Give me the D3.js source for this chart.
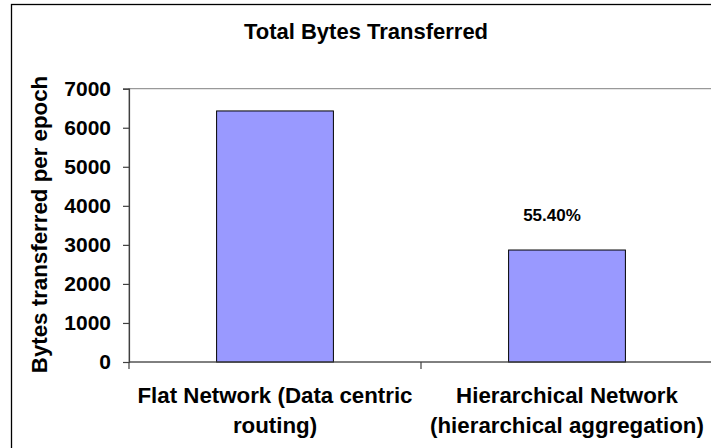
<!DOCTYPE html>
<html>
<head>
<meta charset="utf-8">
<script src="https://cdn.jsdelivr.net/npm/d3@7"></script>
<style>
  html, body { margin: 0; padding: 0; background: #fff; }
  svg { display: block; }
  text { font-family: "Liberation Sans", Arial, sans-serif; font-weight: bold; fill: #000; }
</style>
</head>
<body>
<svg id="chart" width="711" height="448"></svg>
<script>
// Chart content
const chartTitle = "Total Bytes Transferred";
const yAxisTitle = "Bytes transferred per epoch";
const categories = ["Flat Network (Data centric routing)", "Hierarchical Network (hierarchical aggregation)"];
const categoryLines = [["Flat Network (Data centric", "routing)"], ["Hierarchical Network", "(hierarchical aggregation)"]];
const bytesPerEpoch = [6430, 2868];
const yTicks = [0, 1000, 2000, 3000, 4000, 5000, 6000, 7000];
const reductionLabel = "55.40%";

const svg = d3.select("#chart");

// Plot area geometry
const plot = { left: 129, right: 713, top: 88.7, bottom: 362 };

const x = d3.scaleBand()
  .domain(categories)
  .range([plot.left, plot.right])
  .paddingInner(0.6)
  .paddingOuter(0.3);

const y = d3.scaleLinear()
  .domain([0, 7000])
  .range([plot.bottom, plot.top]);

// Chart area frame (extends past the visible window on right/bottom)
svg.append("rect")
  .attr("x", 11.5).attr("y", 4.5)
  .attr("width", 760).attr("height", 500)
  .attr("fill", "none")
  .attr("stroke", "#000")
  .attr("stroke-width", 1.3);

// Plot area border
svg.append("rect")
  .attr("x", plot.left).attr("y", y(7000))
  .attr("width", plot.right - plot.left)
  .attr("height", plot.bottom - y(7000))
  .attr("fill", "none")
  .attr("stroke", "#808080")
  .attr("stroke-width", 1);

// Title
svg.append("text")
  .attr("x", 366).attr("y", 39.3)
  .attr("text-anchor", "middle")
  .style("font-size", "22px")
  .text(chartTitle);

// Y axis
const yAxis = d3.axisLeft(y)
  .tickValues(yTicks)
  .tickFormat(d3.format("d"))
  .tickSize(6)
  .tickPadding(12);

const gy = svg.append("g")
  .attr("transform", `translate(${plot.left},0)`)
  .call(yAxis);
gy.select(".domain").attr("stroke", "#404040").attr("stroke-width", 1.2);
gy.selectAll(".tick line").attr("stroke", "#404040").attr("stroke-width", 1.2);
gy.selectAll(".tick text")
  .style("font-size", "21px")
  .style("font-family", "\"Liberation Sans\", Arial, sans-serif")
  .style("font-weight", "bold")
  .attr("fill", "#000");

// Y axis title
svg.append("text")
  .attr("transform", `translate(46.5,224.5) rotate(-90)`)
  .attr("text-anchor", "middle")
  .style("font-size", "22.3px")
  .text(yAxisTitle);

// Bars
svg.append("g")
  .selectAll("rect")
  .data(categories)
  .join("rect")
  .attr("x", d => x(d))
  .attr("y", (d, i) => y(bytesPerEpoch[i]))
  .attr("width", x.bandwidth())
  .attr("height", (d, i) => y(0) - y(bytesPerEpoch[i]))
  .attr("fill", "#9999FF")
  .attr("stroke", "#000")
  .attr("stroke-width", 1);

// Category axis line and tick marks at category boundaries
const step = x.step();
const boundaries = d3.range(categories.length + 1).map(i => plot.left + i * step);
svg.append("line")
  .attr("x1", plot.left).attr("x2", plot.right)
  .attr("y1", y(0)).attr("y2", y(0))
  .attr("stroke", "#404040").attr("stroke-width", 1.2);
svg.append("g")
  .selectAll("line")
  .data(boundaries)
  .join("line")
  .attr("x1", d => d).attr("x2", d => d)
  .attr("y1", y(0)).attr("y2", y(0) + 7)
  .attr("stroke", "#404040").attr("stroke-width", 1.2);

// Category labels (two lines each)
const catLabels = svg.append("g")
  .selectAll("text")
  .data(categories)
  .join("text")
  .attr("text-anchor", "middle")
  .style("font-size", "22.3px");
catLabels.each(function (d, i) {
  const cx = x(d) + x.bandwidth() / 2;
  d3.select(this).selectAll("tspan")
    .data(categoryLines[i])
    .join("tspan")
    .attr("x", cx)
    .attr("y", (t, j) => 402.7 + j * 30)
    .text(t => t);
});

// Reduction annotation above the hierarchical bar
svg.append("text")
  .attr("x", x(categories[1]) + x.bandwidth() / 2 - 15)
  .attr("y", y(bytesPerEpoch[1]) - 29)
  .attr("text-anchor", "middle")
  .style("font-size", "17px")
  .text(reductionLabel);
</script>
</body>
</html>
